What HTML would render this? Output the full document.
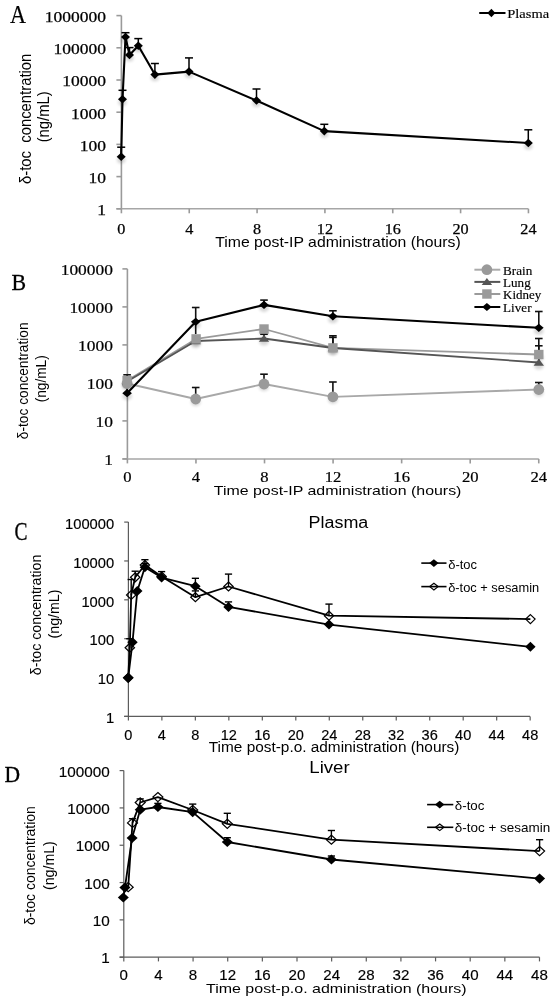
<!DOCTYPE html>
<html><head><meta charset="utf-8"><title>Figure</title>
<style>html,body{margin:0;padding:0;background:#fff;}svg{display:block;will-change:transform;}</style></head>
<body><svg width="555" height="1000" viewBox="0 0 555 1000">
<defs><filter id="sh" x="-2" y="-2" width="5" height="5"><feGaussianBlur stdDeviation="1.6"/></filter></defs>
<rect width="555" height="1000" fill="#fff"/>
<line x1="121.40" y1="15.60" x2="121.40" y2="208.80" stroke="#9a9a9a" stroke-width="1.6" />
<line x1="116.40" y1="208.80" x2="528.44" y2="208.80" stroke="#a6a6a6" stroke-width="1.5" />
<line x1="116.40" y1="208.80" x2="121.40" y2="208.80" stroke="#9a9a9a" stroke-width="1.6" />
<line x1="116.40" y1="176.60" x2="121.40" y2="176.60" stroke="#9a9a9a" stroke-width="1.6" />
<line x1="116.40" y1="144.40" x2="121.40" y2="144.40" stroke="#9a9a9a" stroke-width="1.6" />
<line x1="116.40" y1="112.20" x2="121.40" y2="112.20" stroke="#9a9a9a" stroke-width="1.6" />
<line x1="116.40" y1="80.00" x2="121.40" y2="80.00" stroke="#9a9a9a" stroke-width="1.6" />
<line x1="116.40" y1="47.80" x2="121.40" y2="47.80" stroke="#9a9a9a" stroke-width="1.6" />
<line x1="116.40" y1="15.60" x2="121.40" y2="15.60" stroke="#9a9a9a" stroke-width="1.6" />
<line x1="121.40" y1="208.80" x2="121.40" y2="213.30" stroke="#9a9a9a" stroke-width="1.6" />
<line x1="189.24" y1="208.80" x2="189.24" y2="213.30" stroke="#9a9a9a" stroke-width="1.6" />
<line x1="257.08" y1="208.80" x2="257.08" y2="213.30" stroke="#9a9a9a" stroke-width="1.6" />
<line x1="324.92" y1="208.80" x2="324.92" y2="213.30" stroke="#9a9a9a" stroke-width="1.6" />
<line x1="392.76" y1="208.80" x2="392.76" y2="213.30" stroke="#9a9a9a" stroke-width="1.6" />
<line x1="460.60" y1="208.80" x2="460.60" y2="213.30" stroke="#9a9a9a" stroke-width="1.6" />
<line x1="528.44" y1="208.80" x2="528.44" y2="213.30" stroke="#9a9a9a" stroke-width="1.6" />
<text x="106.00" y="215.10" font-family="Liberation Serif, serif" font-size="14.8" text-anchor="end" fill="#000" textLength="8.75" lengthAdjust="spacingAndGlyphs" stroke="#000" stroke-width="0.25">1</text>
<text x="106.00" y="182.90" font-family="Liberation Serif, serif" font-size="14.8" text-anchor="end" fill="#000" textLength="17.50" lengthAdjust="spacingAndGlyphs" stroke="#000" stroke-width="0.25">10</text>
<text x="106.00" y="150.70" font-family="Liberation Serif, serif" font-size="14.8" text-anchor="end" fill="#000" textLength="26.25" lengthAdjust="spacingAndGlyphs" stroke="#000" stroke-width="0.25">100</text>
<text x="106.00" y="118.50" font-family="Liberation Serif, serif" font-size="14.8" text-anchor="end" fill="#000" textLength="35.00" lengthAdjust="spacingAndGlyphs" stroke="#000" stroke-width="0.25">1000</text>
<text x="106.00" y="86.30" font-family="Liberation Serif, serif" font-size="14.8" text-anchor="end" fill="#000" textLength="43.75" lengthAdjust="spacingAndGlyphs" stroke="#000" stroke-width="0.25">10000</text>
<text x="106.00" y="54.10" font-family="Liberation Serif, serif" font-size="14.8" text-anchor="end" fill="#000" textLength="52.50" lengthAdjust="spacingAndGlyphs" stroke="#000" stroke-width="0.25">100000</text>
<text x="106.00" y="21.90" font-family="Liberation Serif, serif" font-size="14.8" text-anchor="end" fill="#000" textLength="61.25" lengthAdjust="spacingAndGlyphs" stroke="#000" stroke-width="0.25">1000000</text>
<text x="121.40" y="234.00" font-family="Liberation Serif, serif" font-size="14.4" text-anchor="middle" fill="#000" textLength="8.10" lengthAdjust="spacingAndGlyphs" stroke="#000" stroke-width="0.25">0</text>
<text x="189.24" y="234.00" font-family="Liberation Serif, serif" font-size="14.4" text-anchor="middle" fill="#000" textLength="8.10" lengthAdjust="spacingAndGlyphs" stroke="#000" stroke-width="0.25">4</text>
<text x="257.08" y="234.00" font-family="Liberation Serif, serif" font-size="14.4" text-anchor="middle" fill="#000" textLength="8.10" lengthAdjust="spacingAndGlyphs" stroke="#000" stroke-width="0.25">8</text>
<text x="324.92" y="234.00" font-family="Liberation Serif, serif" font-size="14.4" text-anchor="middle" fill="#000" textLength="16.20" lengthAdjust="spacingAndGlyphs" stroke="#000" stroke-width="0.25">12</text>
<text x="392.76" y="234.00" font-family="Liberation Serif, serif" font-size="14.4" text-anchor="middle" fill="#000" textLength="16.20" lengthAdjust="spacingAndGlyphs" stroke="#000" stroke-width="0.25">16</text>
<text x="460.60" y="234.00" font-family="Liberation Serif, serif" font-size="14.4" text-anchor="middle" fill="#000" textLength="16.20" lengthAdjust="spacingAndGlyphs" stroke="#000" stroke-width="0.25">20</text>
<text x="528.44" y="234.00" font-family="Liberation Serif, serif" font-size="14.4" text-anchor="middle" fill="#000" textLength="16.20" lengthAdjust="spacingAndGlyphs" stroke="#000" stroke-width="0.25">24</text>
<text x="215.20" y="246.50" font-family="Liberation Sans, sans-serif" font-size="14.2" text-anchor="start" fill="#000" textLength="245.50" lengthAdjust="spacingAndGlyphs" >Time post-IP administration (hours)</text>
<text transform="translate(31.30,118.80) scale(1.09,1) rotate(-90)" font-family="Liberation Sans, sans-serif" font-size="14.85" text-anchor="middle" xml:space="preserve">δ-toc  concentration</text>
<text transform="translate(48.90,116.80) scale(1.09,1) rotate(-90)" font-family="Liberation Sans, sans-serif" font-size="14.86" text-anchor="middle" xml:space="preserve">(ng/mL)</text>
<text x="10.00" y="22.90" font-family="Liberation Serif, serif" font-size="24.5" text-anchor="start" fill="#000" textLength="16.00" lengthAdjust="spacingAndGlyphs" stroke="#000" stroke-width="0.2">A</text>
<line x1="479.20" y1="13.00" x2="505.50" y2="13.00" stroke="#000" stroke-width="2" />
<polygon points="491.40,8.80 495.40,13.00 491.40,17.20 487.40,13.00" fill="#000"/>
<text x="507.30" y="18.10" font-family="Liberation Serif, serif" font-size="12.8" text-anchor="start" fill="#000" textLength="41.80" lengthAdjust="spacingAndGlyphs" stroke="#000" stroke-width="0.15">Plasma</text>
<line x1="121.20" y1="156.80" x2="121.20" y2="147.20" stroke="#000" stroke-width="1.5" />
<line x1="117.20" y1="147.20" x2="125.20" y2="147.20" stroke="#000" stroke-width="1.5" />
<line x1="122.50" y1="99.20" x2="122.50" y2="90.30" stroke="#000" stroke-width="1.5" />
<line x1="118.50" y1="90.30" x2="126.50" y2="90.30" stroke="#000" stroke-width="1.5" />
<line x1="125.50" y1="37.00" x2="125.50" y2="32.70" stroke="#000" stroke-width="1.5" />
<line x1="121.50" y1="32.70" x2="129.50" y2="32.70" stroke="#000" stroke-width="1.5" />
<line x1="129.50" y1="54.90" x2="129.50" y2="47.60" stroke="#000" stroke-width="1.5" />
<line x1="125.50" y1="47.60" x2="133.50" y2="47.60" stroke="#000" stroke-width="1.5" />
<line x1="138.30" y1="45.70" x2="138.30" y2="38.60" stroke="#000" stroke-width="1.5" />
<line x1="134.30" y1="38.60" x2="142.30" y2="38.60" stroke="#000" stroke-width="1.5" />
<line x1="154.90" y1="74.60" x2="154.90" y2="63.50" stroke="#000" stroke-width="1.5" />
<line x1="150.90" y1="63.50" x2="158.90" y2="63.50" stroke="#000" stroke-width="1.5" />
<line x1="189.00" y1="71.60" x2="189.00" y2="57.90" stroke="#000" stroke-width="1.5" />
<line x1="185.00" y1="57.90" x2="193.00" y2="57.90" stroke="#000" stroke-width="1.5" />
<line x1="256.50" y1="100.50" x2="256.50" y2="89.00" stroke="#000" stroke-width="1.5" />
<line x1="252.50" y1="89.00" x2="260.50" y2="89.00" stroke="#000" stroke-width="1.5" />
<line x1="324.30" y1="131.10" x2="324.30" y2="124.30" stroke="#000" stroke-width="1.5" />
<line x1="320.30" y1="124.30" x2="328.30" y2="124.30" stroke="#000" stroke-width="1.5" />
<line x1="528.30" y1="143.00" x2="528.30" y2="129.80" stroke="#000" stroke-width="1.5" />
<line x1="524.30" y1="129.80" x2="532.30" y2="129.80" stroke="#000" stroke-width="1.5" />
<polyline points="121.20,156.80 122.50,99.20 125.50,37.00 129.50,54.90 138.30,45.70 154.90,74.60 189.00,71.60 256.50,100.50 324.30,131.10 528.30,143.00" fill="none" stroke="#000" stroke-width="2.1" stroke-linejoin="round"/>
<ellipse cx="121.20" cy="160.00" rx="4.20" ry="3.36" fill="#000" opacity="0.16" filter="url(#sh)"/>
<ellipse cx="122.50" cy="102.40" rx="4.20" ry="3.36" fill="#000" opacity="0.16" filter="url(#sh)"/>
<ellipse cx="125.50" cy="40.20" rx="4.20" ry="3.36" fill="#000" opacity="0.16" filter="url(#sh)"/>
<ellipse cx="129.50" cy="58.10" rx="4.20" ry="3.36" fill="#000" opacity="0.16" filter="url(#sh)"/>
<ellipse cx="138.30" cy="48.90" rx="4.20" ry="3.36" fill="#000" opacity="0.16" filter="url(#sh)"/>
<ellipse cx="154.90" cy="77.80" rx="4.20" ry="3.36" fill="#000" opacity="0.16" filter="url(#sh)"/>
<ellipse cx="189.00" cy="74.80" rx="4.20" ry="3.36" fill="#000" opacity="0.16" filter="url(#sh)"/>
<ellipse cx="256.50" cy="103.70" rx="4.20" ry="3.36" fill="#000" opacity="0.16" filter="url(#sh)"/>
<ellipse cx="324.30" cy="134.30" rx="4.20" ry="3.36" fill="#000" opacity="0.16" filter="url(#sh)"/>
<ellipse cx="528.30" cy="146.20" rx="4.20" ry="3.36" fill="#000" opacity="0.16" filter="url(#sh)"/>
<polygon points="121.20,152.50 125.70,156.80 121.20,161.10 116.70,156.80" fill="#000"/>
<polygon points="122.50,94.90 127.00,99.20 122.50,103.50 118.00,99.20" fill="#000"/>
<polygon points="125.50,32.70 130.00,37.00 125.50,41.30 121.00,37.00" fill="#000"/>
<polygon points="129.50,50.60 134.00,54.90 129.50,59.20 125.00,54.90" fill="#000"/>
<polygon points="138.30,41.40 142.80,45.70 138.30,50.00 133.80,45.70" fill="#000"/>
<polygon points="154.90,70.30 159.40,74.60 154.90,78.90 150.40,74.60" fill="#000"/>
<polygon points="189.00,67.30 193.50,71.60 189.00,75.90 184.50,71.60" fill="#000"/>
<polygon points="256.50,96.20 261.00,100.50 256.50,104.80 252.00,100.50" fill="#000"/>
<polygon points="324.30,126.80 328.80,131.10 324.30,135.40 319.80,131.10" fill="#000"/>
<polygon points="528.30,138.70 532.80,143.00 528.30,147.30 523.80,143.00" fill="#000"/>
<line x1="127.40" y1="268.90" x2="127.40" y2="458.90" stroke="#9a9a9a" stroke-width="1.6" />
<line x1="122.40" y1="458.90" x2="538.76" y2="458.90" stroke="#a6a6a6" stroke-width="1.5" />
<line x1="122.40" y1="458.90" x2="127.40" y2="458.90" stroke="#9a9a9a" stroke-width="1.6" />
<line x1="122.40" y1="420.90" x2="127.40" y2="420.90" stroke="#9a9a9a" stroke-width="1.6" />
<line x1="122.40" y1="382.90" x2="127.40" y2="382.90" stroke="#9a9a9a" stroke-width="1.6" />
<line x1="122.40" y1="344.90" x2="127.40" y2="344.90" stroke="#9a9a9a" stroke-width="1.6" />
<line x1="122.40" y1="306.90" x2="127.40" y2="306.90" stroke="#9a9a9a" stroke-width="1.6" />
<line x1="122.40" y1="268.90" x2="127.40" y2="268.90" stroke="#9a9a9a" stroke-width="1.6" />
<line x1="127.40" y1="458.90" x2="127.40" y2="463.40" stroke="#9a9a9a" stroke-width="1.6" />
<line x1="195.96" y1="458.90" x2="195.96" y2="463.40" stroke="#9a9a9a" stroke-width="1.6" />
<line x1="264.52" y1="458.90" x2="264.52" y2="463.40" stroke="#9a9a9a" stroke-width="1.6" />
<line x1="333.08" y1="458.90" x2="333.08" y2="463.40" stroke="#9a9a9a" stroke-width="1.6" />
<line x1="401.64" y1="458.90" x2="401.64" y2="463.40" stroke="#9a9a9a" stroke-width="1.6" />
<line x1="470.20" y1="458.90" x2="470.20" y2="463.40" stroke="#9a9a9a" stroke-width="1.6" />
<line x1="538.76" y1="458.90" x2="538.76" y2="463.40" stroke="#9a9a9a" stroke-width="1.6" />
<text x="112.90" y="465.10" font-family="Liberation Serif, serif" font-size="13.8" text-anchor="end" fill="#000" textLength="8.70" lengthAdjust="spacingAndGlyphs" stroke="#000" stroke-width="0.2">1</text>
<text x="112.90" y="427.10" font-family="Liberation Serif, serif" font-size="13.8" text-anchor="end" fill="#000" textLength="17.40" lengthAdjust="spacingAndGlyphs" stroke="#000" stroke-width="0.2">10</text>
<text x="112.90" y="389.10" font-family="Liberation Serif, serif" font-size="13.8" text-anchor="end" fill="#000" textLength="26.10" lengthAdjust="spacingAndGlyphs" stroke="#000" stroke-width="0.2">100</text>
<text x="112.90" y="351.10" font-family="Liberation Serif, serif" font-size="13.8" text-anchor="end" fill="#000" textLength="34.80" lengthAdjust="spacingAndGlyphs" stroke="#000" stroke-width="0.2">1000</text>
<text x="112.90" y="313.10" font-family="Liberation Serif, serif" font-size="13.8" text-anchor="end" fill="#000" textLength="43.50" lengthAdjust="spacingAndGlyphs" stroke="#000" stroke-width="0.2">10000</text>
<text x="112.90" y="275.10" font-family="Liberation Serif, serif" font-size="13.8" text-anchor="end" fill="#000" textLength="52.20" lengthAdjust="spacingAndGlyphs" stroke="#000" stroke-width="0.2">100000</text>
<text x="127.40" y="482.20" font-family="Liberation Serif, serif" font-size="13.8" text-anchor="middle" fill="#000" textLength="8.30" lengthAdjust="spacingAndGlyphs" stroke="#000" stroke-width="0.2">0</text>
<text x="195.96" y="482.20" font-family="Liberation Serif, serif" font-size="13.8" text-anchor="middle" fill="#000" textLength="8.30" lengthAdjust="spacingAndGlyphs" stroke="#000" stroke-width="0.2">4</text>
<text x="264.52" y="482.20" font-family="Liberation Serif, serif" font-size="13.8" text-anchor="middle" fill="#000" textLength="8.30" lengthAdjust="spacingAndGlyphs" stroke="#000" stroke-width="0.2">8</text>
<text x="333.08" y="482.20" font-family="Liberation Serif, serif" font-size="13.8" text-anchor="middle" fill="#000" textLength="16.60" lengthAdjust="spacingAndGlyphs" stroke="#000" stroke-width="0.2">12</text>
<text x="401.64" y="482.20" font-family="Liberation Serif, serif" font-size="13.8" text-anchor="middle" fill="#000" textLength="16.60" lengthAdjust="spacingAndGlyphs" stroke="#000" stroke-width="0.2">16</text>
<text x="470.20" y="482.20" font-family="Liberation Serif, serif" font-size="13.8" text-anchor="middle" fill="#000" textLength="16.60" lengthAdjust="spacingAndGlyphs" stroke="#000" stroke-width="0.2">20</text>
<text x="538.76" y="482.20" font-family="Liberation Serif, serif" font-size="13.8" text-anchor="middle" fill="#000" textLength="16.60" lengthAdjust="spacingAndGlyphs" stroke="#000" stroke-width="0.2">24</text>
<text x="213.80" y="494.80" font-family="Liberation Sans, sans-serif" font-size="13.5" text-anchor="start" fill="#000" textLength="247.60" lengthAdjust="spacingAndGlyphs" >Time post-IP administration (hours)</text>
<text transform="translate(28.10,380.80) scale(1.09,1) rotate(-90)" font-family="Liberation Sans, sans-serif" font-size="13.73" text-anchor="middle" xml:space="preserve">δ-toc concentration</text>
<text transform="translate(46.00,378.80) scale(1.09,1) rotate(-90)" font-family="Liberation Sans, sans-serif" font-size="13.70" text-anchor="middle" xml:space="preserve">(ng/mL)</text>
<text x="11.40" y="289.90" font-family="Liberation Serif, serif" font-size="23.4" text-anchor="start" fill="#000" textLength="14.60" lengthAdjust="spacingAndGlyphs" stroke="#000" stroke-width="0.3">B</text>
<line x1="474.40" y1="269.70" x2="500.30" y2="269.70" stroke="#aaaaaa" stroke-width="2" />
<circle cx="486.90" cy="269.70" r="5.40" fill="#9a9a9a"/>
<text x="503.10" y="274.60" font-family="Liberation Serif, serif" font-size="11.8" text-anchor="start" fill="#000" textLength="29.20" lengthAdjust="spacingAndGlyphs" stroke="#000" stroke-width="0.15">Brain</text>
<line x1="474.40" y1="281.90" x2="500.30" y2="281.90" stroke="#555555" stroke-width="2" />
<polygon points="486.90,278.05 492.10,285.05 481.70,285.05" fill="#555555"/>
<text x="503.10" y="286.80" font-family="Liberation Serif, serif" font-size="11.8" text-anchor="start" fill="#000" textLength="27.60" lengthAdjust="spacingAndGlyphs" stroke="#000" stroke-width="0.15">Lung</text>
<line x1="474.40" y1="294.00" x2="500.30" y2="294.00" stroke="#9a9a9a" stroke-width="2" />
<rect x="482.20" y="289.30" width="9.40" height="9.40" fill="#9a9a9a"/>
<text x="503.10" y="298.90" font-family="Liberation Serif, serif" font-size="11.8" text-anchor="start" fill="#000" textLength="38.10" lengthAdjust="spacingAndGlyphs" stroke="#000" stroke-width="0.15">Kidney</text>
<line x1="474.40" y1="307.00" x2="500.30" y2="307.00" stroke="#000000" stroke-width="2" />
<polygon points="486.90,302.90 491.70,307.00 486.90,311.10 482.10,307.00" fill="#000"/>
<text x="503.10" y="311.90" font-family="Liberation Serif, serif" font-size="11.8" text-anchor="start" fill="#000" textLength="28.40" lengthAdjust="spacingAndGlyphs" stroke="#000" stroke-width="0.15">Liver</text>
<polyline points="127.10,383.50 195.70,399.00 264.00,384.00 332.90,396.80 538.80,389.50" fill="none" stroke="#a8a8a8" stroke-width="1.8" stroke-linejoin="round"/>
<polyline points="127.10,380.50 196.10,338.90 264.00,329.00 332.90,347.90 538.80,354.50" fill="none" stroke="#9a9a9a" stroke-width="1.8" stroke-linejoin="round"/>
<polyline points="127.10,381.50 195.70,341.00 264.00,338.50 332.90,348.00 538.80,362.50" fill="none" stroke="#555555" stroke-width="1.8" stroke-linejoin="round"/>
<polyline points="127.10,393.20 195.70,321.80 264.00,304.90 332.90,316.30 538.80,327.80" fill="none" stroke="#000" stroke-width="2.1" stroke-linejoin="round"/>
<line x1="195.70" y1="399.00" x2="195.70" y2="387.50" stroke="#111" stroke-width="1.6" />
<line x1="191.90" y1="387.50" x2="199.50" y2="387.50" stroke="#111" stroke-width="1.6" />
<line x1="264.00" y1="384.00" x2="264.00" y2="374.20" stroke="#111" stroke-width="1.6" />
<line x1="260.20" y1="374.20" x2="267.80" y2="374.20" stroke="#111" stroke-width="1.6" />
<line x1="332.90" y1="396.80" x2="332.90" y2="382.00" stroke="#111" stroke-width="1.6" />
<line x1="329.10" y1="382.00" x2="336.70" y2="382.00" stroke="#111" stroke-width="1.6" />
<line x1="538.80" y1="389.50" x2="538.80" y2="382.50" stroke="#111" stroke-width="1.6" />
<line x1="535.00" y1="382.50" x2="542.60" y2="382.50" stroke="#111" stroke-width="1.6" />
<line x1="264.00" y1="338.50" x2="264.00" y2="334.20" stroke="#111" stroke-width="1.6" />
<line x1="260.20" y1="334.20" x2="267.80" y2="334.20" stroke="#111" stroke-width="1.6" />
<line x1="332.90" y1="348.00" x2="332.90" y2="337.40" stroke="#111" stroke-width="1.6" />
<line x1="329.10" y1="337.40" x2="336.70" y2="337.40" stroke="#111" stroke-width="1.6" />
<line x1="538.80" y1="362.50" x2="538.80" y2="345.80" stroke="#111" stroke-width="1.6" />
<line x1="535.00" y1="345.80" x2="542.60" y2="345.80" stroke="#111" stroke-width="1.6" />
<line x1="332.90" y1="347.90" x2="332.90" y2="335.80" stroke="#111" stroke-width="1.6" />
<line x1="329.10" y1="335.80" x2="336.70" y2="335.80" stroke="#111" stroke-width="1.6" />
<line x1="538.80" y1="354.50" x2="538.80" y2="338.50" stroke="#111" stroke-width="1.6" />
<line x1="535.00" y1="338.50" x2="542.60" y2="338.50" stroke="#111" stroke-width="1.6" />
<line x1="127.10" y1="393.20" x2="127.10" y2="374.80" stroke="#111" stroke-width="1.6" />
<line x1="123.30" y1="374.80" x2="130.90" y2="374.80" stroke="#111" stroke-width="1.6" />
<line x1="195.70" y1="321.80" x2="195.70" y2="307.50" stroke="#111" stroke-width="1.6" />
<line x1="191.90" y1="307.50" x2="199.50" y2="307.50" stroke="#111" stroke-width="1.6" />
<line x1="264.00" y1="304.90" x2="264.00" y2="300.10" stroke="#111" stroke-width="1.6" />
<line x1="260.20" y1="300.10" x2="267.80" y2="300.10" stroke="#111" stroke-width="1.6" />
<line x1="332.90" y1="316.30" x2="332.90" y2="310.80" stroke="#111" stroke-width="1.6" />
<line x1="329.10" y1="310.80" x2="336.70" y2="310.80" stroke="#111" stroke-width="1.6" />
<line x1="538.80" y1="327.80" x2="538.80" y2="311.50" stroke="#111" stroke-width="1.6" />
<line x1="535.00" y1="311.50" x2="542.60" y2="311.50" stroke="#111" stroke-width="1.6" />
<line x1="195.70" y1="321.80" x2="195.70" y2="334.00" stroke="#111" stroke-width="1.6" />
<ellipse cx="127.10" cy="386.70" rx="4.80" ry="3.84" fill="#000" opacity="0.16" filter="url(#sh)"/>
<ellipse cx="195.70" cy="402.20" rx="4.80" ry="3.84" fill="#000" opacity="0.16" filter="url(#sh)"/>
<ellipse cx="264.00" cy="387.20" rx="4.80" ry="3.84" fill="#000" opacity="0.16" filter="url(#sh)"/>
<ellipse cx="332.90" cy="400.00" rx="4.80" ry="3.84" fill="#000" opacity="0.16" filter="url(#sh)"/>
<ellipse cx="538.80" cy="392.70" rx="4.80" ry="3.84" fill="#000" opacity="0.16" filter="url(#sh)"/>
<ellipse cx="127.10" cy="384.70" rx="4.80" ry="3.84" fill="#000" opacity="0.16" filter="url(#sh)"/>
<ellipse cx="195.70" cy="344.20" rx="4.80" ry="3.84" fill="#000" opacity="0.16" filter="url(#sh)"/>
<ellipse cx="264.00" cy="341.70" rx="4.80" ry="3.84" fill="#000" opacity="0.16" filter="url(#sh)"/>
<ellipse cx="332.90" cy="351.20" rx="4.80" ry="3.84" fill="#000" opacity="0.16" filter="url(#sh)"/>
<ellipse cx="538.80" cy="365.70" rx="4.80" ry="3.84" fill="#000" opacity="0.16" filter="url(#sh)"/>
<ellipse cx="127.10" cy="383.70" rx="4.80" ry="3.84" fill="#000" opacity="0.16" filter="url(#sh)"/>
<ellipse cx="196.10" cy="342.10" rx="4.80" ry="3.84" fill="#000" opacity="0.16" filter="url(#sh)"/>
<ellipse cx="264.00" cy="332.20" rx="4.80" ry="3.84" fill="#000" opacity="0.16" filter="url(#sh)"/>
<ellipse cx="332.90" cy="351.10" rx="4.80" ry="3.84" fill="#000" opacity="0.16" filter="url(#sh)"/>
<ellipse cx="538.80" cy="357.70" rx="4.80" ry="3.84" fill="#000" opacity="0.16" filter="url(#sh)"/>
<ellipse cx="127.10" cy="396.40" rx="4.80" ry="3.84" fill="#000" opacity="0.16" filter="url(#sh)"/>
<ellipse cx="195.70" cy="325.00" rx="4.80" ry="3.84" fill="#000" opacity="0.16" filter="url(#sh)"/>
<ellipse cx="264.00" cy="308.10" rx="4.80" ry="3.84" fill="#000" opacity="0.16" filter="url(#sh)"/>
<ellipse cx="332.90" cy="319.50" rx="4.80" ry="3.84" fill="#000" opacity="0.16" filter="url(#sh)"/>
<ellipse cx="538.80" cy="331.00" rx="4.80" ry="3.84" fill="#000" opacity="0.16" filter="url(#sh)"/>
<circle cx="127.10" cy="383.50" r="5.40" fill="#9a9a9a"/>
<circle cx="195.70" cy="399.00" r="5.40" fill="#9a9a9a"/>
<circle cx="264.00" cy="384.00" r="5.40" fill="#9a9a9a"/>
<circle cx="332.90" cy="396.80" r="5.40" fill="#9a9a9a"/>
<circle cx="538.80" cy="389.50" r="5.40" fill="#9a9a9a"/>
<polygon points="127.10,377.65 132.30,384.65 121.90,384.65" fill="#555555"/>
<polygon points="195.70,337.15 200.90,344.15 190.50,344.15" fill="#555555"/>
<polygon points="264.00,334.65 269.20,341.65 258.80,341.65" fill="#555555"/>
<polygon points="332.90,344.15 338.10,351.15 327.70,351.15" fill="#555555"/>
<polygon points="538.80,358.65 544.00,365.65 533.60,365.65" fill="#555555"/>
<rect x="122.40" y="375.80" width="9.40" height="9.40" fill="#9a9a9a"/>
<rect x="191.40" y="334.20" width="9.40" height="9.40" fill="#9a9a9a"/>
<rect x="259.30" y="324.30" width="9.40" height="9.40" fill="#9a9a9a"/>
<rect x="328.20" y="343.20" width="9.40" height="9.40" fill="#9a9a9a"/>
<rect x="534.10" y="349.80" width="9.40" height="9.40" fill="#9a9a9a"/>
<polygon points="127.10,389.10 131.90,393.20 127.10,397.30 122.30,393.20" fill="#000"/>
<polygon points="195.70,317.70 200.50,321.80 195.70,325.90 190.90,321.80" fill="#000"/>
<polygon points="264.00,300.80 268.80,304.90 264.00,309.00 259.20,304.90" fill="#000"/>
<polygon points="332.90,312.20 337.70,316.30 332.90,320.40 328.10,316.30" fill="#000"/>
<polygon points="538.80,323.70 543.60,327.80 538.80,331.90 534.00,327.80" fill="#000"/>
<line x1="128.40" y1="522.10" x2="128.40" y2="716.40" stroke="#5c5c5c" stroke-width="1.2" />
<line x1="124.20" y1="716.40" x2="530.10" y2="716.40" stroke="#5c5c5c" stroke-width="1.2" />
<line x1="124.20" y1="716.40" x2="128.40" y2="716.40" stroke="#5c5c5c" stroke-width="1.2" />
<line x1="124.20" y1="677.54" x2="128.40" y2="677.54" stroke="#5c5c5c" stroke-width="1.2" />
<line x1="124.20" y1="638.68" x2="128.40" y2="638.68" stroke="#5c5c5c" stroke-width="1.2" />
<line x1="124.20" y1="599.82" x2="128.40" y2="599.82" stroke="#5c5c5c" stroke-width="1.2" />
<line x1="124.20" y1="560.96" x2="128.40" y2="560.96" stroke="#5c5c5c" stroke-width="1.2" />
<line x1="124.20" y1="522.10" x2="128.40" y2="522.10" stroke="#5c5c5c" stroke-width="1.2" />
<line x1="128.40" y1="716.40" x2="128.40" y2="720.60" stroke="#5c5c5c" stroke-width="1.2" />
<line x1="161.88" y1="716.40" x2="161.88" y2="720.60" stroke="#5c5c5c" stroke-width="1.2" />
<line x1="195.36" y1="716.40" x2="195.36" y2="720.60" stroke="#5c5c5c" stroke-width="1.2" />
<line x1="228.84" y1="716.40" x2="228.84" y2="720.60" stroke="#5c5c5c" stroke-width="1.2" />
<line x1="262.32" y1="716.40" x2="262.32" y2="720.60" stroke="#5c5c5c" stroke-width="1.2" />
<line x1="295.80" y1="716.40" x2="295.80" y2="720.60" stroke="#5c5c5c" stroke-width="1.2" />
<line x1="329.28" y1="716.40" x2="329.28" y2="720.60" stroke="#5c5c5c" stroke-width="1.2" />
<line x1="362.76" y1="716.40" x2="362.76" y2="720.60" stroke="#5c5c5c" stroke-width="1.2" />
<line x1="396.24" y1="716.40" x2="396.24" y2="720.60" stroke="#5c5c5c" stroke-width="1.2" />
<line x1="429.72" y1="716.40" x2="429.72" y2="720.60" stroke="#5c5c5c" stroke-width="1.2" />
<line x1="463.20" y1="716.40" x2="463.20" y2="720.60" stroke="#5c5c5c" stroke-width="1.2" />
<line x1="496.68" y1="716.40" x2="496.68" y2="720.60" stroke="#5c5c5c" stroke-width="1.2" />
<line x1="530.16" y1="716.40" x2="530.16" y2="720.60" stroke="#5c5c5c" stroke-width="1.2" />
<text x="114.20" y="723.20" font-family="Liberation Sans, sans-serif" font-size="14.0" text-anchor="end" fill="#000" textLength="8.20" lengthAdjust="spacingAndGlyphs" stroke="#000" stroke-width="0.15">1</text>
<text x="114.20" y="684.34" font-family="Liberation Sans, sans-serif" font-size="14.0" text-anchor="end" fill="#000" textLength="16.40" lengthAdjust="spacingAndGlyphs" stroke="#000" stroke-width="0.15">10</text>
<text x="114.20" y="645.48" font-family="Liberation Sans, sans-serif" font-size="14.0" text-anchor="end" fill="#000" textLength="24.60" lengthAdjust="spacingAndGlyphs" stroke="#000" stroke-width="0.15">100</text>
<text x="114.20" y="606.62" font-family="Liberation Sans, sans-serif" font-size="14.0" text-anchor="end" fill="#000" textLength="32.80" lengthAdjust="spacingAndGlyphs" stroke="#000" stroke-width="0.15">1000</text>
<text x="114.20" y="567.76" font-family="Liberation Sans, sans-serif" font-size="14.0" text-anchor="end" fill="#000" textLength="41.00" lengthAdjust="spacingAndGlyphs" stroke="#000" stroke-width="0.15">10000</text>
<text x="114.20" y="528.90" font-family="Liberation Sans, sans-serif" font-size="14.0" text-anchor="end" fill="#000" textLength="49.20" lengthAdjust="spacingAndGlyphs" stroke="#000" stroke-width="0.15">100000</text>
<text x="128.40" y="739.60" font-family="Liberation Sans, sans-serif" font-size="14.0" text-anchor="middle" fill="#000" textLength="8.10" lengthAdjust="spacingAndGlyphs" stroke="#000" stroke-width="0.15">0</text>
<text x="161.88" y="739.60" font-family="Liberation Sans, sans-serif" font-size="14.0" text-anchor="middle" fill="#000" textLength="8.10" lengthAdjust="spacingAndGlyphs" stroke="#000" stroke-width="0.15">4</text>
<text x="195.36" y="739.60" font-family="Liberation Sans, sans-serif" font-size="14.0" text-anchor="middle" fill="#000" textLength="8.10" lengthAdjust="spacingAndGlyphs" stroke="#000" stroke-width="0.15">8</text>
<text x="228.84" y="739.60" font-family="Liberation Sans, sans-serif" font-size="14.0" text-anchor="middle" fill="#000" textLength="16.20" lengthAdjust="spacingAndGlyphs" stroke="#000" stroke-width="0.15">12</text>
<text x="262.32" y="739.60" font-family="Liberation Sans, sans-serif" font-size="14.0" text-anchor="middle" fill="#000" textLength="16.20" lengthAdjust="spacingAndGlyphs" stroke="#000" stroke-width="0.15">16</text>
<text x="295.80" y="739.60" font-family="Liberation Sans, sans-serif" font-size="14.0" text-anchor="middle" fill="#000" textLength="16.20" lengthAdjust="spacingAndGlyphs" stroke="#000" stroke-width="0.15">20</text>
<text x="329.28" y="739.60" font-family="Liberation Sans, sans-serif" font-size="14.0" text-anchor="middle" fill="#000" textLength="16.20" lengthAdjust="spacingAndGlyphs" stroke="#000" stroke-width="0.15">24</text>
<text x="362.76" y="739.60" font-family="Liberation Sans, sans-serif" font-size="14.0" text-anchor="middle" fill="#000" textLength="16.20" lengthAdjust="spacingAndGlyphs" stroke="#000" stroke-width="0.15">28</text>
<text x="396.24" y="739.60" font-family="Liberation Sans, sans-serif" font-size="14.0" text-anchor="middle" fill="#000" textLength="16.20" lengthAdjust="spacingAndGlyphs" stroke="#000" stroke-width="0.15">32</text>
<text x="429.72" y="739.60" font-family="Liberation Sans, sans-serif" font-size="14.0" text-anchor="middle" fill="#000" textLength="16.20" lengthAdjust="spacingAndGlyphs" stroke="#000" stroke-width="0.15">36</text>
<text x="463.20" y="739.60" font-family="Liberation Sans, sans-serif" font-size="14.0" text-anchor="middle" fill="#000" textLength="16.20" lengthAdjust="spacingAndGlyphs" stroke="#000" stroke-width="0.15">40</text>
<text x="496.68" y="739.60" font-family="Liberation Sans, sans-serif" font-size="14.0" text-anchor="middle" fill="#000" textLength="16.20" lengthAdjust="spacingAndGlyphs" stroke="#000" stroke-width="0.15">44</text>
<text x="530.16" y="739.60" font-family="Liberation Sans, sans-serif" font-size="14.0" text-anchor="middle" fill="#000" textLength="16.20" lengthAdjust="spacingAndGlyphs" stroke="#000" stroke-width="0.15">48</text>
<text x="208.80" y="751.50" font-family="Liberation Sans, sans-serif" font-size="13.8" text-anchor="start" fill="#000" textLength="250.60" lengthAdjust="spacingAndGlyphs" >Time post-p.o. administration (hours)</text>
<text transform="translate(40.50,614.95) scale(1.09,1) rotate(-90)" font-family="Liberation Sans, sans-serif" font-size="14.17" text-anchor="middle" xml:space="preserve">δ-toc concentration</text>
<text transform="translate(58.60,614.00) scale(1.09,1) rotate(-90)" font-family="Liberation Sans, sans-serif" font-size="14.17" text-anchor="middle" xml:space="preserve">(ng/mL)</text>
<text x="14.60" y="540.00" font-family="Liberation Serif, serif" font-size="25.0" text-anchor="start" fill="#000" textLength="13.00" lengthAdjust="spacingAndGlyphs" stroke="#000" stroke-width="0.3">C</text>
<text x="308.50" y="527.70" font-family="Liberation Sans, sans-serif" font-size="15.8" text-anchor="start" fill="#000" textLength="59.80" lengthAdjust="spacingAndGlyphs" >Plasma</text>
<line x1="421.30" y1="563.10" x2="446.50" y2="563.10" stroke="#000" stroke-width="1.6" />
<polygon points="433.90,559.30 438.60,563.10 433.90,566.90 429.20,563.10" fill="#000"/>
<line x1="421.30" y1="586.60" x2="446.50" y2="586.60" stroke="#000" stroke-width="1.6" />
<polygon points="433.90,583.30 438.10,586.60 433.90,589.90 429.70,586.60" fill="none" stroke="#000" stroke-width="1.2"/>
<text x="448.20" y="568.90" font-family="Liberation Sans, sans-serif" font-size="13" text-anchor="start" fill="#000" textLength="28.80" lengthAdjust="spacingAndGlyphs" >δ-toc</text>
<text x="448.20" y="591.60" font-family="Liberation Sans, sans-serif" font-size="13" text-anchor="start" fill="#000" textLength="91.00" lengthAdjust="spacingAndGlyphs" >δ-toc + sesamin</text>
<line x1="144.90" y1="567.30" x2="144.90" y2="559.70" stroke="#000" stroke-width="1.4" />
<line x1="141.30" y1="559.70" x2="148.50" y2="559.70" stroke="#000" stroke-width="1.4" />
<line x1="161.60" y1="577.60" x2="161.60" y2="571.60" stroke="#000" stroke-width="1.4" />
<line x1="158.00" y1="571.60" x2="165.20" y2="571.60" stroke="#000" stroke-width="1.4" />
<line x1="195.40" y1="586.20" x2="195.40" y2="578.30" stroke="#000" stroke-width="1.4" />
<line x1="191.80" y1="578.30" x2="199.00" y2="578.30" stroke="#000" stroke-width="1.4" />
<line x1="228.50" y1="606.90" x2="228.50" y2="601.90" stroke="#000" stroke-width="1.4" />
<line x1="224.90" y1="601.90" x2="232.10" y2="601.90" stroke="#000" stroke-width="1.4" />
<line x1="129.80" y1="647.70" x2="129.80" y2="638.70" stroke="#000" stroke-width="1.4" />
<line x1="126.20" y1="638.70" x2="133.40" y2="638.70" stroke="#000" stroke-width="1.4" />
<line x1="131.20" y1="595.00" x2="131.20" y2="579.50" stroke="#000" stroke-width="1.4" />
<line x1="127.60" y1="579.50" x2="134.80" y2="579.50" stroke="#000" stroke-width="1.4" />
<line x1="135.20" y1="577.30" x2="135.20" y2="571.20" stroke="#000" stroke-width="1.4" />
<line x1="131.60" y1="571.20" x2="138.80" y2="571.20" stroke="#000" stroke-width="1.4" />
<line x1="144.90" y1="565.00" x2="144.90" y2="563.60" stroke="#000" stroke-width="1.4" />
<line x1="141.30" y1="563.60" x2="148.50" y2="563.60" stroke="#000" stroke-width="1.4" />
<line x1="195.40" y1="597.20" x2="195.40" y2="590.90" stroke="#000" stroke-width="1.4" />
<line x1="191.80" y1="590.90" x2="199.00" y2="590.90" stroke="#000" stroke-width="1.4" />
<line x1="228.50" y1="586.50" x2="228.50" y2="574.10" stroke="#000" stroke-width="1.4" />
<line x1="224.90" y1="574.10" x2="232.10" y2="574.10" stroke="#000" stroke-width="1.4" />
<line x1="329.00" y1="615.70" x2="329.00" y2="604.10" stroke="#000" stroke-width="1.4" />
<line x1="325.40" y1="604.10" x2="332.60" y2="604.10" stroke="#000" stroke-width="1.4" />
<polyline points="128.20,677.80 129.80,647.70 131.20,595.00 135.20,577.30 144.90,565.00 161.60,576.50 195.40,597.20 228.50,586.50 329.00,615.70 530.40,619.10" fill="none" stroke="#000" stroke-width="1.8" stroke-linejoin="round"/>
<polyline points="128.20,677.80 132.50,642.30 137.30,591.00 144.90,567.30 161.60,577.60 195.40,586.20 228.50,606.90 329.00,624.60 530.40,646.80" fill="none" stroke="#000" stroke-width="1.8" stroke-linejoin="round"/>
<polygon points="128.20,673.30 132.90,677.80 128.20,682.30 123.50,677.80" fill="none" stroke="#000" stroke-width="1.2"/>
<polygon points="129.80,643.20 134.50,647.70 129.80,652.20 125.10,647.70" fill="none" stroke="#000" stroke-width="1.2"/>
<polygon points="131.20,590.50 135.90,595.00 131.20,599.50 126.50,595.00" fill="none" stroke="#000" stroke-width="1.2"/>
<polygon points="135.20,572.80 139.90,577.30 135.20,581.80 130.50,577.30" fill="none" stroke="#000" stroke-width="1.2"/>
<polygon points="144.90,560.50 149.60,565.00 144.90,569.50 140.20,565.00" fill="none" stroke="#000" stroke-width="1.2"/>
<polygon points="161.60,572.00 166.30,576.50 161.60,581.00 156.90,576.50" fill="none" stroke="#000" stroke-width="1.2"/>
<polygon points="195.40,592.70 200.10,597.20 195.40,601.70 190.70,597.20" fill="none" stroke="#000" stroke-width="1.2"/>
<polygon points="228.50,582.00 233.20,586.50 228.50,591.00 223.80,586.50" fill="none" stroke="#000" stroke-width="1.2"/>
<polygon points="329.00,611.20 333.70,615.70 329.00,620.20 324.30,615.70" fill="none" stroke="#000" stroke-width="1.2"/>
<polygon points="530.40,614.60 535.10,619.10 530.40,623.60 525.70,619.10" fill="none" stroke="#000" stroke-width="1.2"/>
<polygon points="128.20,672.80 133.40,677.80 128.20,682.80 123.00,677.80" fill="#000"/>
<polygon points="132.50,637.30 137.70,642.30 132.50,647.30 127.30,642.30" fill="#000"/>
<polygon points="137.30,586.00 142.50,591.00 137.30,596.00 132.10,591.00" fill="#000"/>
<polygon points="144.90,562.30 150.10,567.30 144.90,572.30 139.70,567.30" fill="#000"/>
<polygon points="161.60,572.60 166.80,577.60 161.60,582.60 156.40,577.60" fill="#000"/>
<polygon points="195.40,581.20 200.60,586.20 195.40,591.20 190.20,586.20" fill="#000"/>
<polygon points="228.50,601.90 233.70,606.90 228.50,611.90 223.30,606.90" fill="#000"/>
<polygon points="329.00,619.60 334.20,624.60 329.00,629.60 323.80,624.60" fill="#000"/>
<polygon points="530.40,641.80 535.60,646.80 530.40,651.80 525.20,646.80" fill="#000"/>
<line x1="123.80" y1="770.60" x2="123.80" y2="957.20" stroke="#5c5c5c" stroke-width="1.2" />
<line x1="119.60" y1="957.20" x2="539.50" y2="957.20" stroke="#5c5c5c" stroke-width="1.2" />
<line x1="119.60" y1="957.20" x2="123.80" y2="957.20" stroke="#5c5c5c" stroke-width="1.2" />
<line x1="119.60" y1="919.88" x2="123.80" y2="919.88" stroke="#5c5c5c" stroke-width="1.2" />
<line x1="119.60" y1="882.56" x2="123.80" y2="882.56" stroke="#5c5c5c" stroke-width="1.2" />
<line x1="119.60" y1="845.24" x2="123.80" y2="845.24" stroke="#5c5c5c" stroke-width="1.2" />
<line x1="119.60" y1="807.92" x2="123.80" y2="807.92" stroke="#5c5c5c" stroke-width="1.2" />
<line x1="119.60" y1="770.60" x2="123.80" y2="770.60" stroke="#5c5c5c" stroke-width="1.2" />
<line x1="123.80" y1="957.20" x2="123.80" y2="961.40" stroke="#5c5c5c" stroke-width="1.2" />
<line x1="158.44" y1="957.20" x2="158.44" y2="961.40" stroke="#5c5c5c" stroke-width="1.2" />
<line x1="193.08" y1="957.20" x2="193.08" y2="961.40" stroke="#5c5c5c" stroke-width="1.2" />
<line x1="227.72" y1="957.20" x2="227.72" y2="961.40" stroke="#5c5c5c" stroke-width="1.2" />
<line x1="262.36" y1="957.20" x2="262.36" y2="961.40" stroke="#5c5c5c" stroke-width="1.2" />
<line x1="297.00" y1="957.20" x2="297.00" y2="961.40" stroke="#5c5c5c" stroke-width="1.2" />
<line x1="331.64" y1="957.20" x2="331.64" y2="961.40" stroke="#5c5c5c" stroke-width="1.2" />
<line x1="366.28" y1="957.20" x2="366.28" y2="961.40" stroke="#5c5c5c" stroke-width="1.2" />
<line x1="400.92" y1="957.20" x2="400.92" y2="961.40" stroke="#5c5c5c" stroke-width="1.2" />
<line x1="435.56" y1="957.20" x2="435.56" y2="961.40" stroke="#5c5c5c" stroke-width="1.2" />
<line x1="470.20" y1="957.20" x2="470.20" y2="961.40" stroke="#5c5c5c" stroke-width="1.2" />
<line x1="504.84" y1="957.20" x2="504.84" y2="961.40" stroke="#5c5c5c" stroke-width="1.2" />
<line x1="539.48" y1="957.20" x2="539.48" y2="961.40" stroke="#5c5c5c" stroke-width="1.2" />
<text x="109.80" y="963.30" font-family="Liberation Sans, sans-serif" font-size="14.0" text-anchor="end" fill="#000" textLength="8.50" lengthAdjust="spacingAndGlyphs" stroke="#000" stroke-width="0.15">1</text>
<text x="109.80" y="925.98" font-family="Liberation Sans, sans-serif" font-size="14.0" text-anchor="end" fill="#000" textLength="17.00" lengthAdjust="spacingAndGlyphs" stroke="#000" stroke-width="0.15">10</text>
<text x="109.80" y="888.66" font-family="Liberation Sans, sans-serif" font-size="14.0" text-anchor="end" fill="#000" textLength="25.50" lengthAdjust="spacingAndGlyphs" stroke="#000" stroke-width="0.15">100</text>
<text x="109.80" y="851.34" font-family="Liberation Sans, sans-serif" font-size="14.0" text-anchor="end" fill="#000" textLength="34.00" lengthAdjust="spacingAndGlyphs" stroke="#000" stroke-width="0.15">1000</text>
<text x="109.80" y="814.02" font-family="Liberation Sans, sans-serif" font-size="14.0" text-anchor="end" fill="#000" textLength="42.50" lengthAdjust="spacingAndGlyphs" stroke="#000" stroke-width="0.15">10000</text>
<text x="109.80" y="776.70" font-family="Liberation Sans, sans-serif" font-size="14.0" text-anchor="end" fill="#000" textLength="51.00" lengthAdjust="spacingAndGlyphs" stroke="#000" stroke-width="0.15">100000</text>
<text x="123.80" y="980.00" font-family="Liberation Sans, sans-serif" font-size="14.0" text-anchor="middle" fill="#000" textLength="8.40" lengthAdjust="spacingAndGlyphs" stroke="#000" stroke-width="0.15">0</text>
<text x="158.44" y="980.00" font-family="Liberation Sans, sans-serif" font-size="14.0" text-anchor="middle" fill="#000" textLength="8.40" lengthAdjust="spacingAndGlyphs" stroke="#000" stroke-width="0.15">4</text>
<text x="193.08" y="980.00" font-family="Liberation Sans, sans-serif" font-size="14.0" text-anchor="middle" fill="#000" textLength="8.40" lengthAdjust="spacingAndGlyphs" stroke="#000" stroke-width="0.15">8</text>
<text x="227.72" y="980.00" font-family="Liberation Sans, sans-serif" font-size="14.0" text-anchor="middle" fill="#000" textLength="16.80" lengthAdjust="spacingAndGlyphs" stroke="#000" stroke-width="0.15">12</text>
<text x="262.36" y="980.00" font-family="Liberation Sans, sans-serif" font-size="14.0" text-anchor="middle" fill="#000" textLength="16.80" lengthAdjust="spacingAndGlyphs" stroke="#000" stroke-width="0.15">16</text>
<text x="297.00" y="980.00" font-family="Liberation Sans, sans-serif" font-size="14.0" text-anchor="middle" fill="#000" textLength="16.80" lengthAdjust="spacingAndGlyphs" stroke="#000" stroke-width="0.15">20</text>
<text x="331.64" y="980.00" font-family="Liberation Sans, sans-serif" font-size="14.0" text-anchor="middle" fill="#000" textLength="16.80" lengthAdjust="spacingAndGlyphs" stroke="#000" stroke-width="0.15">24</text>
<text x="366.28" y="980.00" font-family="Liberation Sans, sans-serif" font-size="14.0" text-anchor="middle" fill="#000" textLength="16.80" lengthAdjust="spacingAndGlyphs" stroke="#000" stroke-width="0.15">28</text>
<text x="400.92" y="980.00" font-family="Liberation Sans, sans-serif" font-size="14.0" text-anchor="middle" fill="#000" textLength="16.80" lengthAdjust="spacingAndGlyphs" stroke="#000" stroke-width="0.15">32</text>
<text x="435.56" y="980.00" font-family="Liberation Sans, sans-serif" font-size="14.0" text-anchor="middle" fill="#000" textLength="16.80" lengthAdjust="spacingAndGlyphs" stroke="#000" stroke-width="0.15">36</text>
<text x="470.20" y="980.00" font-family="Liberation Sans, sans-serif" font-size="14.0" text-anchor="middle" fill="#000" textLength="16.80" lengthAdjust="spacingAndGlyphs" stroke="#000" stroke-width="0.15">40</text>
<text x="504.84" y="980.00" font-family="Liberation Sans, sans-serif" font-size="14.0" text-anchor="middle" fill="#000" textLength="16.80" lengthAdjust="spacingAndGlyphs" stroke="#000" stroke-width="0.15">44</text>
<text x="539.48" y="980.00" font-family="Liberation Sans, sans-serif" font-size="14.0" text-anchor="middle" fill="#000" textLength="16.80" lengthAdjust="spacingAndGlyphs" stroke="#000" stroke-width="0.15">48</text>
<text x="206.00" y="993.00" font-family="Liberation Sans, sans-serif" font-size="13.6" text-anchor="start" fill="#000" textLength="260.60" lengthAdjust="spacingAndGlyphs" >Time post-p.o. administration (hours)</text>
<text transform="translate(35.30,865.60) scale(1.09,1) rotate(-90)" font-family="Liberation Sans, sans-serif" font-size="14.00" text-anchor="middle" xml:space="preserve">δ-toc concentration</text>
<text transform="translate(53.90,865.60) scale(1.09,1) rotate(-90)" font-family="Liberation Sans, sans-serif" font-size="14.17" text-anchor="middle" xml:space="preserve">(ng/mL)</text>
<text x="4.60" y="781.90" font-family="Liberation Serif, serif" font-size="23.6" text-anchor="start" fill="#000" textLength="15.60" lengthAdjust="spacingAndGlyphs" stroke="#000" stroke-width="0.3">D</text>
<text x="309.30" y="772.70" font-family="Liberation Sans, sans-serif" font-size="15.8" text-anchor="start" fill="#000" textLength="40.40" lengthAdjust="spacingAndGlyphs" >Liver</text>
<line x1="427.10" y1="804.60" x2="453.30" y2="804.60" stroke="#000" stroke-width="1.6" />
<polygon points="439.70,800.80 444.40,804.60 439.70,808.40 435.00,804.60" fill="#000"/>
<line x1="427.10" y1="827.30" x2="453.30" y2="827.30" stroke="#000" stroke-width="1.6" />
<polygon points="439.70,824.00 443.90,827.30 439.70,830.60 435.50,827.30" fill="none" stroke="#000" stroke-width="1.2"/>
<text x="454.80" y="809.70" font-family="Liberation Sans, sans-serif" font-size="13" text-anchor="start" fill="#000" textLength="29.60" lengthAdjust="spacingAndGlyphs" >δ-toc</text>
<text x="454.80" y="832.40" font-family="Liberation Sans, sans-serif" font-size="13" text-anchor="start" fill="#000" textLength="95.40" lengthAdjust="spacingAndGlyphs" >δ-toc + sesamin</text>
<line x1="157.90" y1="807.00" x2="157.90" y2="803.40" stroke="#000" stroke-width="1.4" />
<line x1="154.30" y1="803.40" x2="161.50" y2="803.40" stroke="#000" stroke-width="1.4" />
<line x1="192.70" y1="812.10" x2="192.70" y2="804.10" stroke="#000" stroke-width="1.4" />
<line x1="189.10" y1="804.10" x2="196.30" y2="804.10" stroke="#000" stroke-width="1.4" />
<line x1="227.30" y1="842.00" x2="227.30" y2="837.70" stroke="#000" stroke-width="1.4" />
<line x1="223.70" y1="837.70" x2="230.90" y2="837.70" stroke="#000" stroke-width="1.4" />
<line x1="331.40" y1="859.50" x2="331.40" y2="856.00" stroke="#000" stroke-width="1.4" />
<line x1="327.80" y1="856.00" x2="335.00" y2="856.00" stroke="#000" stroke-width="1.4" />
<line x1="132.50" y1="822.90" x2="132.50" y2="818.70" stroke="#000" stroke-width="1.4" />
<line x1="128.90" y1="818.70" x2="136.10" y2="818.70" stroke="#000" stroke-width="1.4" />
<line x1="140.20" y1="802.50" x2="140.20" y2="798.90" stroke="#000" stroke-width="1.4" />
<line x1="136.60" y1="798.90" x2="143.80" y2="798.90" stroke="#000" stroke-width="1.4" />
<line x1="227.30" y1="823.80" x2="227.30" y2="813.30" stroke="#000" stroke-width="1.4" />
<line x1="223.70" y1="813.30" x2="230.90" y2="813.30" stroke="#000" stroke-width="1.4" />
<line x1="331.40" y1="839.70" x2="331.40" y2="830.50" stroke="#000" stroke-width="1.4" />
<line x1="327.80" y1="830.50" x2="335.00" y2="830.50" stroke="#000" stroke-width="1.4" />
<line x1="539.60" y1="851.10" x2="539.60" y2="839.70" stroke="#000" stroke-width="1.4" />
<line x1="536.00" y1="839.70" x2="543.20" y2="839.70" stroke="#000" stroke-width="1.4" />
<polyline points="128.20,887.20 132.50,822.90 140.20,802.50 157.90,797.10 192.70,810.00 227.30,823.80 331.40,839.70 539.60,851.10" fill="none" stroke="#000" stroke-width="1.8" stroke-linejoin="round"/>
<polyline points="123.30,897.50 124.90,887.60 132.10,838.00 140.20,809.70 157.90,807.00 192.70,812.10 227.30,842.00 331.40,859.50 539.60,878.60" fill="none" stroke="#000" stroke-width="1.8" stroke-linejoin="round"/>
<polygon points="128.20,882.60 133.20,887.20 128.20,891.80 123.20,887.20" fill="none" stroke="#000" stroke-width="1.2"/>
<polygon points="132.50,818.30 137.50,822.90 132.50,827.50 127.50,822.90" fill="none" stroke="#000" stroke-width="1.2"/>
<polygon points="140.20,797.90 145.20,802.50 140.20,807.10 135.20,802.50" fill="none" stroke="#000" stroke-width="1.2"/>
<polygon points="157.90,792.50 162.90,797.10 157.90,801.70 152.90,797.10" fill="none" stroke="#000" stroke-width="1.2"/>
<polygon points="192.70,805.40 197.70,810.00 192.70,814.60 187.70,810.00" fill="none" stroke="#000" stroke-width="1.2"/>
<polygon points="227.30,819.20 232.30,823.80 227.30,828.40 222.30,823.80" fill="none" stroke="#000" stroke-width="1.2"/>
<polygon points="331.40,835.10 336.40,839.70 331.40,844.30 326.40,839.70" fill="none" stroke="#000" stroke-width="1.2"/>
<polygon points="539.60,846.50 544.60,851.10 539.60,855.70 534.60,851.10" fill="none" stroke="#000" stroke-width="1.2"/>
<polygon points="123.30,892.40 128.80,897.50 123.30,902.60 117.80,897.50" fill="#000"/>
<polygon points="124.90,882.50 130.40,887.60 124.90,892.70 119.40,887.60" fill="#000"/>
<polygon points="132.10,832.90 137.60,838.00 132.10,843.10 126.60,838.00" fill="#000"/>
<polygon points="140.20,804.60 145.70,809.70 140.20,814.80 134.70,809.70" fill="#000"/>
<polygon points="157.90,801.90 163.40,807.00 157.90,812.10 152.40,807.00" fill="#000"/>
<polygon points="192.70,807.00 198.20,812.10 192.70,817.20 187.20,812.10" fill="#000"/>
<polygon points="227.30,836.90 232.80,842.00 227.30,847.10 221.80,842.00" fill="#000"/>
<polygon points="331.40,854.40 336.90,859.50 331.40,864.60 325.90,859.50" fill="#000"/>
<polygon points="539.60,873.50 545.10,878.60 539.60,883.70 534.10,878.60" fill="#000"/>
</svg></body></html>
